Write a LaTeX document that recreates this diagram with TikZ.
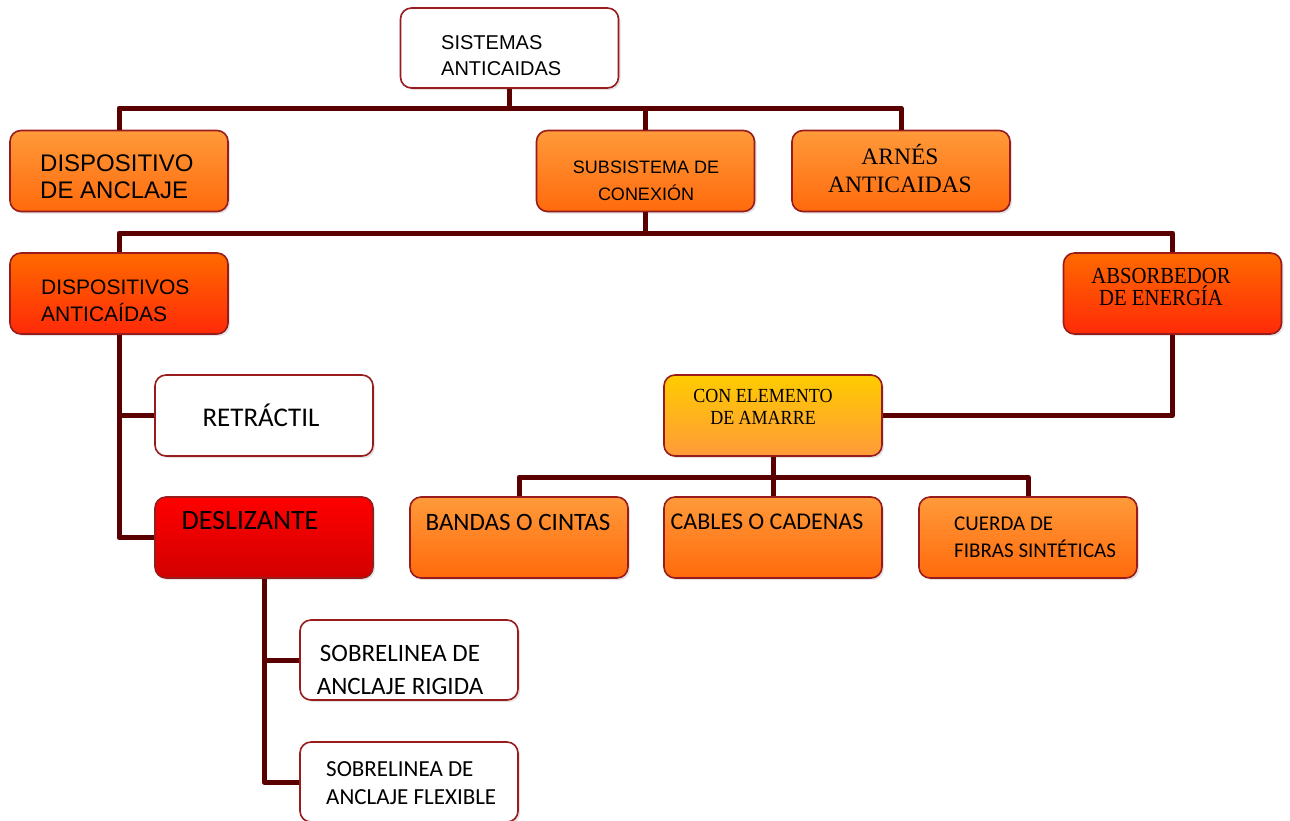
\documentclass[tikz,border=0pt]{standalone}
\usepackage{fontspec}
\setmainfont{Liberation Sans}
\newfontfamily\serifrm{Liberation Serif}
\newfontfamily\serifnarrow[FakeStretch=0.9]{Liberation Serif}
\newfontfamily\calibri{Carlito}
\usetikzlibrary{shadows}

\definecolor{linkcol}{HTML}{5A0000}
\definecolor{rimcol}{HTML}{981C1C}
\definecolor{orgtop}{HTML}{FF9A3A}
\definecolor{orgbot}{HTML}{FF6A0C}
\definecolor{hottop}{HTML}{FF6A00}
\definecolor{hotbot}{HTML}{FF2A08}
\definecolor{redtop}{HTML}{FF0000}
\definecolor{redbot}{HTML}{D20000}
\definecolor{yeltop}{HTML}{FFCC00}
\definecolor{yelbot}{HTML}{FF9A3A}

\tikzset{
  box/.style={draw=rimcol, line width=1.6pt, rounded corners=11pt,
    minimum width=218pt, minimum height=81pt, inner sep=0pt,
    drop shadow={opacity=0.22, shadow xshift=2pt, shadow yshift=-2pt}},
  plainbox/.style={box, fill=white},
  orangebox/.style={box, top color=orgtop, bottom color=orgbot},
  hotbox/.style={box, top color=hottop, bottom color=hotbot},
  redbox/.style={box, top color=redtop, bottom color=redbot},
  yellowbox/.style={box, top color=yeltop, bottom color=yelbot},
  txt/.style={inner sep=0pt, align=left},
  ctxt/.style={inner sep=0pt, align=center},
  link/.style={draw=linkcol, line width=5pt, line join=round},
}

\begin{document}
\begin{tikzpicture}[x=1pt, y=-1pt]
  \useasboundingbox (0,0) rectangle (1290,820);

  % boxes
  \path (509.5,48) node[plainbox, minimum height=80pt] (sis) {};
  \path (119,171) node[orangebox] (ancla) {};
  \path (645.5,171) node[orangebox] (subs) {};
  \path (901,171) node[orangebox] (arnes) {};
  \path (119,293.5) node[hotbox] (antic) {};
  \path (1172.5,293.5) node[hotbox] (absor) {};
  \path (264,415.5) node[plainbox] (retra) {};
  \path (264,537.5) node[redbox] (desli) {};
  \path (773,415.5) node[yellowbox] (amarre) {};
  \path (519,537.5) node[orangebox] (bandas) {};
  \path (773,537.5) node[orangebox] (cables) {};
  \path (1028,537.5) node[orangebox] (cuerda) {};
  \path (409,660) node[plainbox, minimum height=80pt] (rigida) {};
  \path (409,782) node[plainbox, minimum height=80pt] (flexi) {};

  % texts
  \path (441,56) node[txt, anchor=west, font=\fontsize{20}{26}\selectfont] (sisT) {SISTEMAS\\ANTICAIDAS};
  \path (40,176.5) node[txt, anchor=west, font=\fontsize{24}{27}\selectfont] (anclaT) {DISPOSITIVO\\DE ANCLAJE};
  \path (646,180.5) node[ctxt, font=\fontsize{18}{27}\selectfont] (subsT) {SUBSISTEMA DE\\CONEXIÓN};
  \path (900,169) node[ctxt, font=\serifrm\fontsize{23.5}{28}\selectfont] (arnesT) {ARNÉS\\ANTICAIDAS};
  \path (41,300.5) node[txt, anchor=west, font=\fontsize{21}{27}\selectfont] (anticT) {DISPOSITIVOS\\ANTICAÍDAS};
  \path (1161,287) node[ctxt, font=\serifnarrow\fontsize{23}{22}\selectfont] (absorT) {ABSORBEDOR\\DE ENERGÍA};
  \path (261,415) node[ctxt, font=\calibri\fontsize{27}{30}\selectfont] (retraT) {RETRÁCTIL};
  \path (250,520) node[ctxt, font=\calibri\fontsize{28}{30}\selectfont] (desliT) {DESLIZANTE};
  \path (763,407) node[ctxt, font=\serifnarrow\fontsize{20}{22}\selectfont] (amarreT) {CON ELEMENTO\\DE AMARRE};
  \path (518,522) node[ctxt, font=\calibri\fontsize{25}{30}\selectfont] (bandasT) {BANDAS O CINTAS};
  \path (767,522) node[ctxt, font=\calibri\fontsize{24}{30}\selectfont] (cablesT) {CABLES O CADENAS};
  \path (954,537.5) node[txt, anchor=west, font=\calibri\fontsize{21}{27}\selectfont] (cuerdaT) {CUERDA DE\\FIBRAS SINTÉTICAS};
  \path (400,669.5) node[ctxt, font=\calibri\fontsize{25}{33}\selectfont] (rigidaT) {SOBRELINEA DE\\ANCLAJE RIGIDA};
  \path (326,783) node[txt, anchor=west, font=\calibri\fontsize{23}{28}\selectfont] (flexiT) {SOBRELINEA DE\\ANCLAJE FLEXIBLE};

  % connectors
  \coordinate (busA) at (509.5,108);
  \coordinate (busB) at (645.5,233);
  \coordinate (busC) at (773,477);
  \draw[link] (sis.south) -- (busA);
  \draw[link] (ancla.north) -- (ancla.north |- busA) -- (arnes.north |- busA) -- (arnes.north);
  \draw[link] (subs.north) -- (subs.north |- busA);
  \draw[link] (subs.south) -- (busB);
  \draw[link] (antic.north) -- (antic.north |- busB) -- (absor.north |- busB) -- (absor.north);
  \draw[link] (antic.south) -- (antic.south |- desli.west) -- (desli.west);
  \draw[link] (antic.south |- retra.west) -- (retra.west);
  \draw[link] (desli.south) -- (desli.south |- flexi.west) -- (flexi.west);
  \draw[link] (desli.south |- rigida.west) -- (rigida.west);
  \draw[link] (absor.south) -- (absor.south |- amarre.east) -- (amarre.east);
  \draw[link] (amarre.south) -- (cables.north);
  \draw[link] (bandas.north) -- (bandas.north |- busC) -- (cuerda.north |- busC) -- (cuerda.north);
\end{tikzpicture}
\end{document}
